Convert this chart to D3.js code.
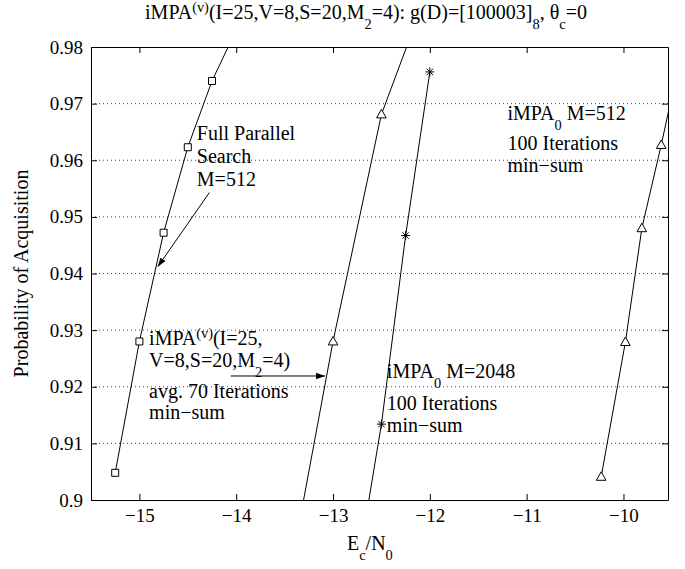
<!DOCTYPE html>
<html>
<head>
<meta charset="utf-8">
<script src="https://cdn.jsdelivr.net/npm/d3@7"></script>
<style>
body { margin: 0; background: #fff; }
svg text { font-family: "Liberation Serif", "Times New Roman", serif; fill: #000; }
</style>
</head>
<body>
<div id="chart"></div>
<script>
// axis ticks
const xTicks = [-15, -14, -13, -12, -11, -10];
const xTickLabels = ["\u221215", "\u221214", "\u221213", "\u221212", "\u221211", "\u221210"];
const yTicks = [0.9, 0.91, 0.92, 0.93, 0.94, 0.95, 0.96, 0.97, 0.98];
const yTickLabels = ["0.9", "0.91", "0.92", "0.93", "0.94", "0.95", "0.96", "0.97", "0.98"];

// Full parallel search, M=512 (squares)
const fullX = [-15.25, -15.0, -14.75, -14.5, -14.25, -14.0];
const fullY = [0.9048, 0.928, 0.9472, 0.9623, 0.974, 0.983];

// iMPA(v), avg. 70 iterations (triangles)
const impaVX = [-13.5, -13.0, -12.5, -12.0];
const impaVY = [0.882, 0.928, 0.9681, 0.991];

// iMPA0 M=2048, 100 iterations (stars)
const impa2048X = [-12.75, -12.5, -12.25, -12.0];
const impa2048Y = [0.8876, 0.9134, 0.9467, 0.9756];

// iMPA0 M=512, 100 iterations (triangles)
const impa512X = [-10.23, -9.98, -9.81, -9.61, -9.45];
const impa512Y = [0.9041, 0.9279, 0.948, 0.9627, 0.9753];

const W = 685, H = 569;
const plot = {left: 91, right: 668, top: 47, bottom: 500};

const svg = d3.select("#chart").append("svg")
    .attr("width", W)
    .attr("height", H);

const x = d3.scaleLinear().domain([-15.5, -9.54]).range([plot.left, plot.right]);
const y = d3.scaleLinear().domain([0.9, 0.98]).range([plot.bottom, plot.top]);

// multi-line rich text in one <text>: lines = [[lineOffset, parts]], parts = [string, "sub" | "sup" | null]
function addRich(g, px, py, lines, size, anchor) {
    const t = g.append("text")
        .attr("x", px)
        .attr("y", py)
        .attr("text-anchor", anchor || "start")
        .style("font-size", size + "px");
    let cur = 0;
    lines.forEach(([dyLine, parts]) => {
        parts.forEach(([s, k], j) => {
            const off = dyLine + (k === "sub" ? size * 0.5 : k === "sup" ? -size * 0.35 : 0);
            const ts = t.append("tspan")
                .attr("dy", off - cur)
                .style("font-size", k ? (size * 0.72) + "px" : null)
                .text(s);
            if (j === 0) ts.attr("x", px);
            cur = off;
        });
    });
    return t;
}

const defs = svg.append("defs");
defs.append("clipPath").attr("id", "clip")
    .append("rect")
    .attr("x", plot.left).attr("y", plot.top)
    .attr("width", plot.right - plot.left).attr("height", plot.bottom - plot.top);

defs.append("marker")
    .attr("id", "arrow")
    .attr("viewBox", "0 0 10 10")
    .attr("refX", 10).attr("refY", 5)
    .attr("markerWidth", 9).attr("markerHeight", 9)
    .attr("markerUnits", "userSpaceOnUse")
    .attr("orient", "auto")
    .append("path")
    .attr("d", "M0,1.5 L10,5 L0,8.5 Z")
    .attr("fill", "#000");

// Grid lines (dotted, inner y ticks only)
svg.append("g").selectAll("line")
    .data(yTicks.slice(1, -1))
    .enter().append("line")
    .attr("x1", plot.left).attr("x2", plot.right)
    .attr("y1", d => y(d)).attr("y2", d => y(d))
    .attr("stroke", "#444")
    .attr("stroke-width", 1)
    .attr("stroke-dasharray", "1,3");

// Axes (ticks inside, box on)
const tickLen = 6;
svg.append("g")
    .attr("transform", `translate(0,${plot.bottom})`)
    .call(d3.axisBottom(x).tickValues(xTicks).tickSizeInner(-tickLen).tickSizeOuter(0).tickPadding(9)
        .tickFormat((d, i) => xTickLabels[i]));
svg.append("g")
    .attr("transform", `translate(0,${plot.top})`)
    .call(d3.axisTop(x).tickValues(xTicks).tickSizeInner(-tickLen).tickSizeOuter(0).tickFormat(""));
svg.append("g")
    .attr("transform", `translate(${plot.left},0)`)
    .call(d3.axisLeft(y).tickValues(yTicks).tickSizeInner(-tickLen).tickSizeOuter(0).tickPadding(8)
        .tickFormat((d, i) => yTickLabels[i]));
svg.append("g")
    .attr("transform", `translate(${plot.right},0)`)
    .call(d3.axisRight(y).tickValues(yTicks).tickSizeInner(-tickLen).tickSizeOuter(0).tickFormat(""));

svg.selectAll(".domain, .tick line")
    .attr("stroke", "#000")
    .attr("stroke-width", 1);
svg.selectAll(".tick text")
    .style("font-family", "'Liberation Serif', 'Times New Roman', serif")
    .style("font-size", "19px")
    .attr("fill", "#000");

// Series lines
const plotG = svg.append("g").attr("clip-path", "url(#clip)");
const line = d3.line().x(d => x(d[0])).y(d => y(d[1]));

const series = [
    {xs: fullX, ys: fullY, marker: "square"},
    {xs: impaVX, ys: impaVY, marker: "triangle"},
    {xs: impa2048X, ys: impa2048Y, marker: "star"},
    {xs: impa512X, ys: impa512Y, marker: "triangle"}
];

const markerPath = {
    square: "M-3.5,-3.5 H3.5 V3.5 H-3.5 Z",
    triangle: "M0,-5 L4.8,3.5 L-4.8,3.5 Z",
    star: "M0,-4.5 V4.5 M-4.5,0 H4.5 M-3.2,-3.2 L3.2,3.2 M-3.2,3.2 L3.2,-3.2"
};

series.forEach(s => {
    const pts = s.xs.map((v, i) => [v, s.ys[i]]);
    plotG.append("path")
        .datum(pts)
        .attr("d", line)
        .attr("fill", "none")
        .attr("stroke", "#000")
        .attr("stroke-width", 1);
    plotG.selectAll(null)
        .data(pts)
        .enter().append("path")
        .attr("transform", d => `translate(${x(d[0])},${y(d[1])})`)
        .attr("d", markerPath[s.marker])
        .attr("fill", s.marker === "star" ? "none" : "#fff")
        .attr("stroke", "#000")
        .attr("stroke-width", 1);
});

// Annotations
const ann = svg.append("g");
const fs = 20;

// Full Parallel Search
addRich(ann, x(-14.407), y(0.9635), [
    [0, [["Full Parallel", null]]],
    [23, [["Search", null]]],
    [46, [["M=512", null]]]
], fs);
ann.append("line")
    .attr("x1", x(-14.277)).attr("y1", y(0.9543))
    .attr("x2", x(-14.81)).attr("y2", y(0.9412))
    .attr("stroke", "#000").attr("stroke-width", 1)
    .attr("marker-end", "url(#arrow)");

// iMPA(v)
addRich(ann, x(-14.9), y(0.9274), [
    [0, [["iMPA", null], ["(v)", "sup"], ["(I=25,", null]]],
    [22, [["V=8,S=20,M", null], ["2", "sub"], ["=4)", null]]],
    [53, [["avg. 70 Iterations", null]]],
    [74, [["min\u2212sum", null]]]
], fs);
ann.append("line")
    .attr("x1", x(-14.056)).attr("y1", y(0.9219))
    .attr("x2", x(-13.082)).attr("y2", y(0.9219))
    .attr("stroke", "#000").attr("stroke-width", 1)
    .attr("marker-end", "url(#arrow)");

// iMPA0 M=2048
addRich(ann, x(-12.444), y(0.92158), [
    [0, [["iMPA", null], ["0", "sub"], [" M=2048", null]]],
    [32, [["100 Iterations", null]]],
    [54, [["min\u2212sum", null]]]
], fs);

// iMPA0 M=512
addRich(ann, x(-11.198), y(0.96706), [
    [0, [["iMPA", null], ["0", "sub"], [" M=512", null]]],
    [30, [["100 Iterations", null]]],
    [52, [["min\u2212sum", null]]]
], fs);

// Title
addRich(svg, 366, 19, [[0, [
    ["iMPA", null], ["(v)", "sup"], ["(I=25,V=8,S=20,M", null], ["2", "sub"],
    ["=4): g(D)=[100003]", null], ["8", "sub"], [", \u03b8", null], ["c", "sub"], ["=0", null]
]]], 20, "middle");

// Axis labels
addRich(svg, 347, 550, [[0, [["E", null], ["c", "sub"], ["/N", null], ["0", "sub"]]]], 20);
svg.append("text")
    .attr("transform", `translate(28,${(plot.top + plot.bottom) / 2}) rotate(-90)`)
    .attr("text-anchor", "middle")
    .style("font-size", "20px")
    .text("Probability of Acquisition");
</script>
</body>
</html>
